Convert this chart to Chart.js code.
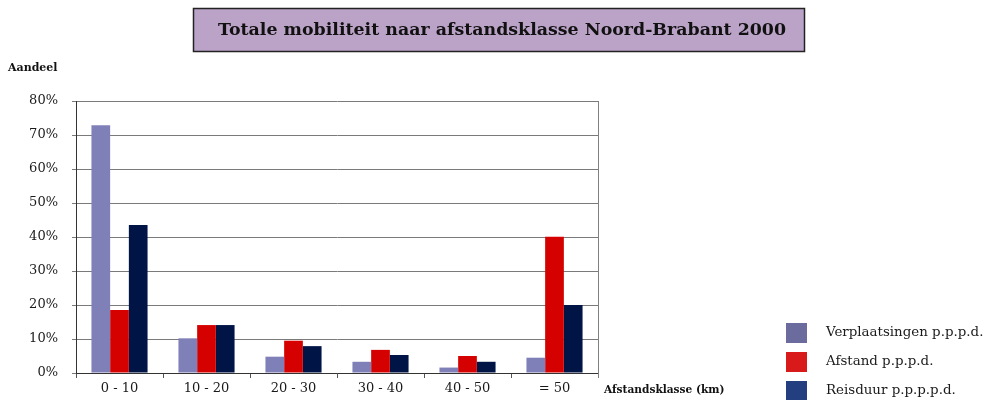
<!DOCTYPE html>
<html>
<head>
<meta charset="utf-8">
<script src="https://cdn.jsdelivr.net/npm/chart.js@4"></script>
<style>
  html, body { margin: 0; padding: 0; background: #fff; }
  #wrap { width: 989px; height: 400px; position: relative; }
</style>
</head>
<body>
<div id="wrap"><canvas id="mobiliteit"></canvas></div>
<script>
var klassen = ["0 - 10", "10 - 20", "20 - 30", "30 - 40", "40 - 50", "= 50"];
var verplaatsingen = [72.9, 10.2, 4.8, 3.3, 1.6, 4.5];
var afstand = [18.5, 14.1, 9.5, 6.8, 5.0, 40.1];
var reisduur = [43.5, 14.1, 7.9, 5.3, 3.3, 20.0];
var yTicks = [0, 10, 20, 30, 40, 50, 60, 70, 80];

var serif = "'DejaVu Serif', 'Liberation Serif', serif";
var legendColors = ["#6b6b9e", "#d91a1a", "#233f80"];

var frame = {
  id: "frame",
  beforeDraw: function(chart){
    var c = chart.ctx;
    c.save();
    // titel
    c.fillStyle = "#bba3c8";
    c.fillRect(193.5, 8.5, 611, 43);
    c.strokeStyle = "#222";
    c.lineWidth = 1.5;
    c.strokeRect(193.5, 8.5, 611, 43);
    c.fillStyle = "#111";
    c.font = "bold 17.4px " + serif;
    c.textAlign = "center";
    c.textBaseline = "middle";
    c.fillText("Totale mobiliteit naar afstandsklasse Noord-Brabant 2000", 502, 30);
    c.restore();
  },
  afterDraw: function(chart){
    var c = chart.ctx, a = chart.chartArea;
    c.save();
    c.strokeStyle = "#808080";
    c.lineWidth = 1;
    c.beginPath();
    c.moveTo(Math.round(a.right) + 0.5, a.top);
    c.lineTo(Math.round(a.right) + 0.5, a.bottom + 5);
    c.stroke();
    c.fillStyle = "#111";
    c.font = "bold 11px " + serif;
    c.textAlign = "left";
    c.textBaseline = "middle";
    c.fillText("Aandeel", 8, 68);
    c.font = "bold 10.6px " + serif;
    c.fillText("Afstandsklasse (km)", 604, 390);
    // legenda
    c.font = "13.4px " + serif;
    chart.data.datasets.forEach(function(ds, i){
      var y = 323 + i * 29;
      c.fillStyle = legendColors[i];
      c.fillRect(786, y, 21, 20);
      c.fillStyle = "#1a1a1a";
      c.fillText(ds.label, 826, y + 10);
    });
    c.restore();
  }
};

new Chart(document.getElementById("mobiliteit"), {
  type: "bar",
  data: {
    labels: klassen,
    datasets: [
      { label: "Verplaatsingen p.p.p.d.", data: verplaatsingen, backgroundColor: "#8080b8" },
      { label: "Afstand p.p.p.d.", data: afstand, backgroundColor: "#d50000" },
      { label: "Reisduur p.p.p.p.d.", data: reisduur, backgroundColor: "#001446" }
    ]
  },
  options: {
    responsive: true,
    maintainAspectRatio: false,
    animation: false,
    layout: { padding: { top: 101, right: 391, left: 0, bottom: 0 } },
    datasets: { bar: { categoryPercentage: 0.645, barPercentage: 1 } },
    plugins: { legend: { display: false }, title: { display: false }, tooltip: { enabled: false } },
    scales: {
      x: {
        afterFit: function(s){ s.height = 27; },
        grid: { drawOnChartArea: false, drawTicks: true, tickLength: 5, color: "#555", offset: true },
        border: { display: true, color: "#333", width: 1 },
        ticks: { color: "#1a1a1a", padding: 3, font: { family: serif, size: 13 } }
      },
      y: {
        min: 0, max: 80,
        afterFit: function(s){ s.width = 76; },
        afterBuildTicks: function(s){ s.ticks = yTicks.map(function(v){ return { value: v }; }); },
        grid: { color: "#7a7a7a", lineWidth: 1, tickLength: 4 },
        border: { display: true, color: "#333", width: 1 },
        ticks: {
          color: "#1a1a1a", padding: 14, font: { family: serif, size: 13 },
          callback: function(v){ return v + "%"; }
        }
      }
    }
  },
  plugins: [frame]
});
</script>
</body>
</html>
